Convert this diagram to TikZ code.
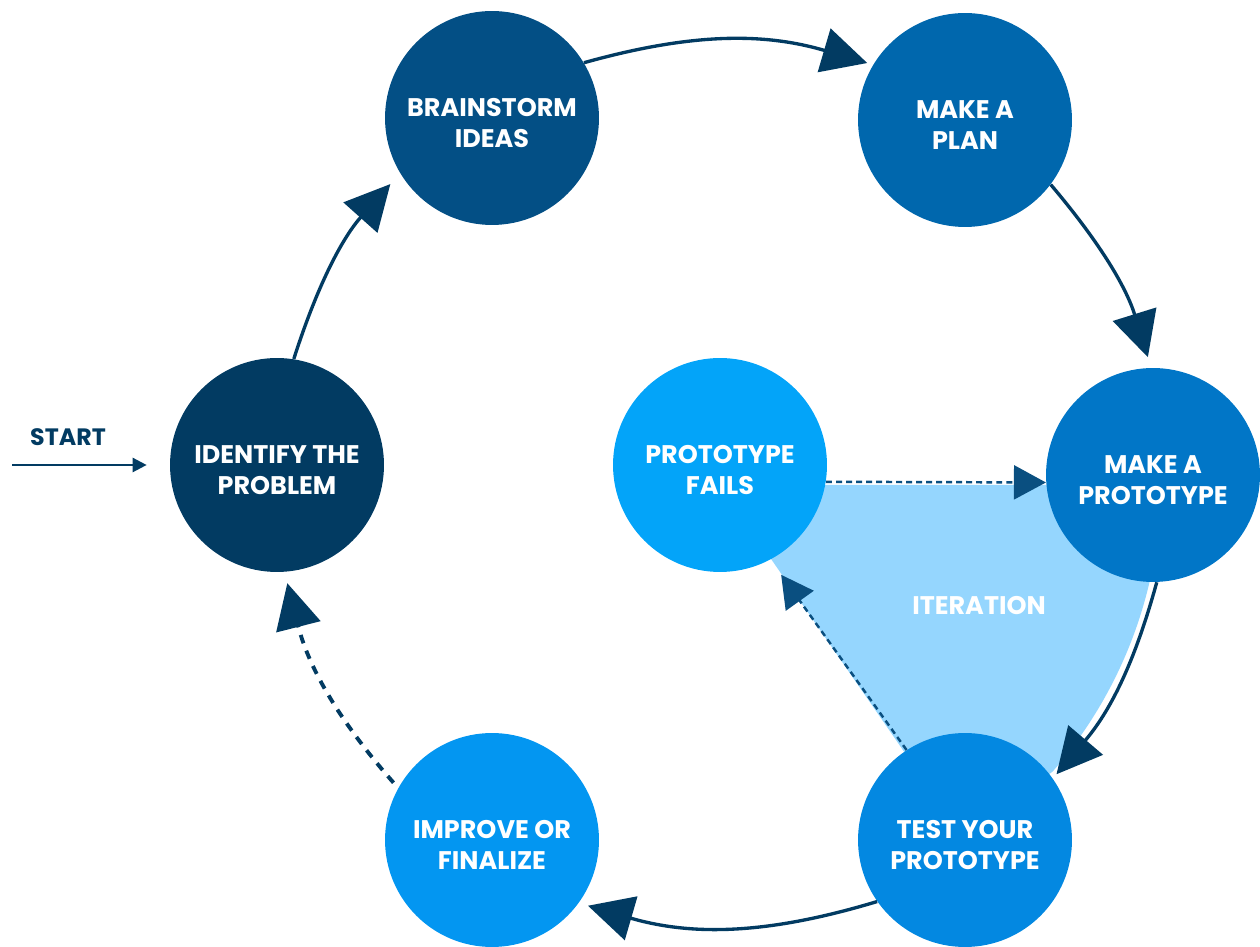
\documentclass[tikz,border=0pt]{standalone}
\usepackage{fontspec}
\setsansfont{Poppins}
\usepackage{xcolor}
\usetikzlibrary{arrows.meta}
\definecolor{navy}{HTML}{023B62}
\definecolor{cBrain}{HTML}{034F85}
\definecolor{cPlan}{HTML}{0067AD}
\definecolor{cProto}{HTML}{0176C7}
\definecolor{cTest}{HTML}{0388E1}
\definecolor{cImprove}{HTML}{0396F1}
\definecolor{cFails}{HTML}{03A4F9}
\definecolor{cIter}{HTML}{95D6FE}
\definecolor{cDash}{HTML}{0A4F80}

\begin{document}
\begin{tikzpicture}
  [
    x=0.02cm, y=0.02cm,
    stage/.style={circle, minimum size=4.28cm, inner sep=0pt, align=center,
    text=white, font=\sffamily\bfseries\fontsize{14.5}{17.6}\selectfont},
    cyc/.style={draw=navy, line width=1.9pt, -{Triangle[length=0.9cm,width=0.9cm]}},
    back/.style={draw=navy, line width=2.2pt, dash pattern=on 5pt off 4.5pt,
    -{Triangle[length=0.9cm,width=0.9cm]}},
    iter/.style={draw=cDash, line width=1.4pt, dash pattern=on 3.4pt off 2.3pt,
    -{Triangle[length=0.64cm,width=0.68cm]}}
  ]
  \useasboundingbox (0,0) rectangle (1260,946);

  % iteration area
  \coordinate (ctr) at (720,464);
  \fill [cIter] (720,461) -- (1165,461) -- ([shift={(-12:441)}]ctr)
        arc [start angle=-12, end angle=-41, radius=441] -- (965,106) -- cycle;

  \node (ident)   at ( 277,481) [stage, fill=navy]     {\rule{0pt}{16pt}IDENTIFY THE\\PROBLEM};
  \node (brain)   at ( 492,828) [stage, fill=cBrain]   {\rule{0pt}{16pt}BRAINSTORM\\IDEAS};
  \node (plan)    at ( 965,826) [stage, fill=cPlan]    {\rule{0pt}{16pt}MAKE A\\PLAN};
  \node (proto)   at (1153,471) [stage, fill=cProto]   {\rule{0pt}{16pt}MAKE A\\PROTOTYPE};
  \node (test)    at ( 965,106) [stage, fill=cTest]    {\rule{0pt}{16pt}TEST YOUR\\PROTOTYPE};
  \node (improve) at ( 492,106) [stage, fill=cImprove] {\rule{0pt}{16pt}IMPROVE OR\\FINALIZE};
  \node (fails)   at ( 720,481) [stage, fill=cFails]   {\rule{0pt}{16pt}PROTOTYPE\\FAILS};

  \node (itlabel) at (979,340) [text=white, font=\sffamily\bfseries\fontsize{14.5}{17.6}\selectfont] {ITERATION};
  \node (start)   at ( 68,509) [text=navy, font=\sffamily\bfseries\fontsize{13.5}{17.6}\selectfont] {START};
  \coordinate (tail) at (12,481);

  \draw [draw=navy, line width=1.4pt, -{Triangle[length=0.28cm,width=0.28cm]}, shorten >=0.46cm]
        (tail) -- (ident.west);

  \draw [cyc, shorten >=0.29cm] (ident.81.5)  to [bend left=12] (brain.211);
  \draw [cyc, shorten >=0.12cm] (brain.31.6)  to [bend left=16] (plan.149);
  \draw [cyc, shorten >=0.22cm] (plan.-37.8)  to [bend left=11.5] (proto.91.6);
  \draw [cyc, shorten >=0.11cm] (proto.-88.9) to [bend left=12.5] (test.35);
  \draw [cyc, shorten >=0.19cm] (test.215)    to [bend left=16.5] (improve.-36);
  \draw [back, shorten <=0.14cm, shorten >=0.23cm] (improve.151.5) to [bend left=13.5] (ident.-86);

  \draw [iter] (fails.-9.7) -- (proto.184.3);
  \draw [iter, shorten >=0.37cm] (test.123.7) -- (fails.-62.7);
\end{tikzpicture}
\end{document}
